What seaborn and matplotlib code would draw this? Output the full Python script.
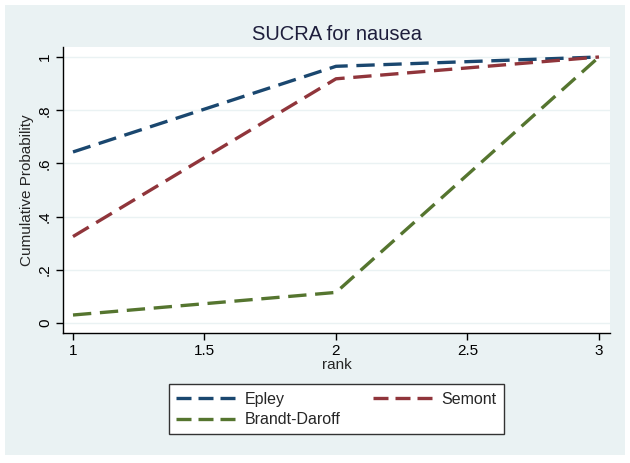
import matplotlib
matplotlib.use("Agg")
import matplotlib.pyplot as plt
from matplotlib.patches import Rectangle
import seaborn as sns
import pandas as pd

# data
ranks = [1, 2, 3]
epley = [0.643, 0.965, 1.0]
semont = [0.325, 0.918, 1.0]
brandt = [0.03, 0.115, 1.0]
treatments = ["Epley", "Semont", "Brandt-Daroff"]
colors = ["#1a476f", "#90353b", "#55752f"]
xticks = [1, 1.5, 2, 2.5, 3]
yticks = [0, 0.2, 0.4, 0.6, 0.8, 1]
ytick_labels = ["0", ".2", ".4", ".6", ".8", "1"]

df = pd.DataFrame({
    "rank": ranks * 3,
    "prob": epley + semont + brandt,
    "treatment": sum([[t] * len(ranks) for t in treatments], []),
})

sns.set_style("white")
plt.rcParams["font.family"] = ["Liberation Sans", "DejaVu Sans"]

fig = plt.figure(figsize=(6.3, 4.63), dpi=100, facecolor="white")
# Stata-like outer background panel
fig.patches.append(Rectangle((0.008, 0.017), 0.984, 0.972, transform=fig.transFigure,
                             facecolor="#eaf2f3", edgecolor="none", zorder=-10))
ax = fig.add_axes([0.1000, 0.2808, 0.8683, 0.6177])
ax.set_facecolor("white")

sns.lineplot(data=df, x="rank", y="prob", hue="treatment", hue_order=treatments,
             palette=colors, linewidth=2.4, ax=ax, legend=False)
for line in ax.get_lines():
    line.set_dashes([5.5, 2.6])

ax.set_xlim(0.962, 3.042)
ax.set_ylim(-0.0376, 1.0376)
ax.set_xticks(xticks)
ax.set_xticklabels(["1", "1.5", "2", "2.5", "3"])
ax.set_yticks(yticks)
ax.set_yticklabels(ytick_labels, rotation=90, va="center")
for y in yticks:
    ax.axhline(y, color="#eaf2f3", linewidth=1, zorder=0)

for s in ["top", "right"]:
    ax.spines[s].set_visible(False)
ax.spines["left"].set_color("black")
ax.spines["bottom"].set_color("black")
ax.spines["left"].set_linewidth(1)
ax.spines["bottom"].set_linewidth(1)
ax.tick_params(axis="both", direction="out", length=5, width=1, colors="black",
               labelsize=11, bottom=True, left=True, pad=3)

ax.set_xlabel("rank", fontsize=11, labelpad=0)
ax.set_ylabel("Cumulative Probability", fontsize=11, labelpad=3)
ax.set_title("SUCRA for nausea", fontsize=14.5, color="#1e1e3c", pad=5)

handles = ax.get_lines()[:3]
leg = fig.legend([handles[0], handles[2], handles[1]],
                 ["Epley", "Brandt-Daroff", "Semont"],
                 ncol=2, loc="center", bbox_to_anchor=(0.534, 0.1156),
                 frameon=True, fancybox=False, edgecolor="#333333",
                 facecolor="white", framealpha=1,
                 fontsize=11.5, handlelength=3.7, columnspacing=2.0,
                 handletextpad=0.6, borderpad=0.45, labelspacing=0.35)
leg.get_frame().set_linewidth(1)
for l in leg.get_lines():
    l.set_dashes([4.5, 2.1])

fig.savefig("out.png", dpi=100, facecolor="white")
